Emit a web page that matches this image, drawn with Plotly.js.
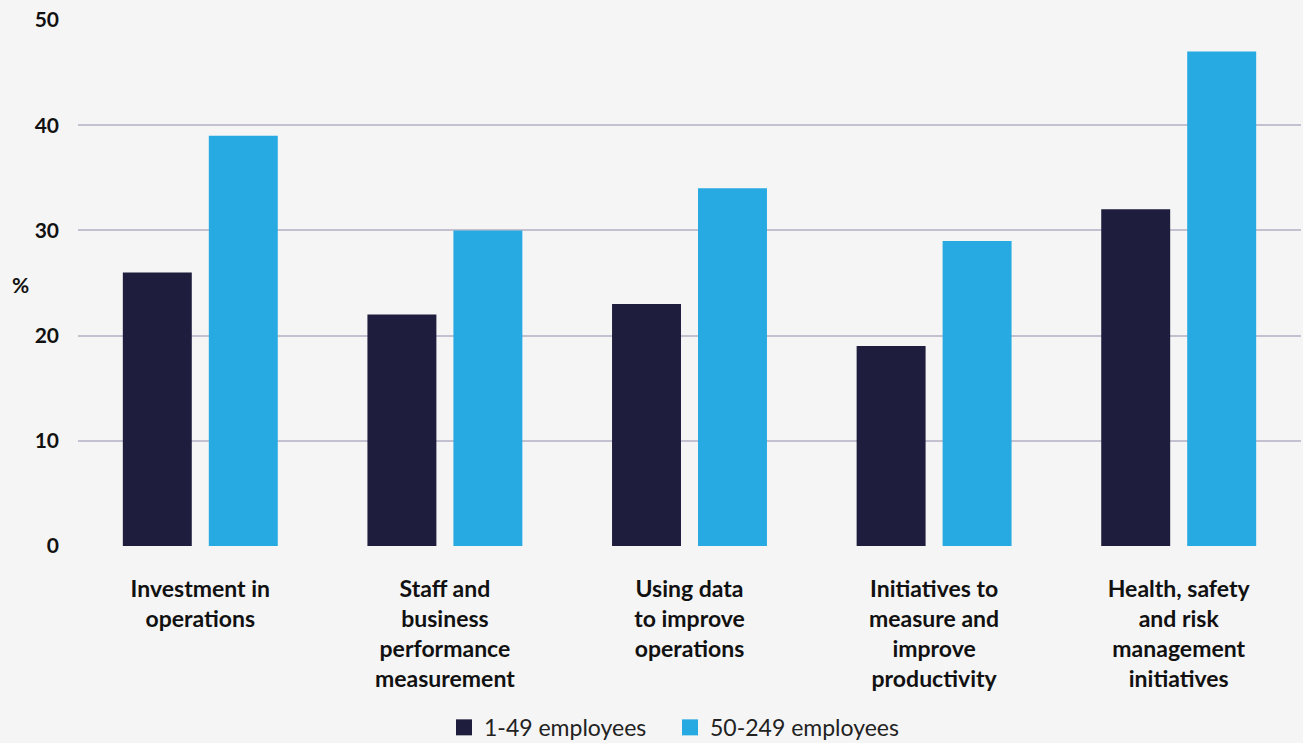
<!DOCTYPE html>
<html>
<head>
<meta charset="utf-8">
<script src="https://cdn.plot.ly/plotly-3.0.1.min.js"></script>
<style>html,body{margin:0;padding:0;background:#f5f5f5;}#chart{width:1303px;height:743px;}</style>
</head>
<body>
<div id="chart"></div>
<script>
const categories = ["Investment in operations", "Staff and business performance measurement", "Using data to improve operations", "Initiatives to measure and improve productivity", "Health, safety and risk management initiatives"];
const tickLabels = ["Investment in<br>operations", "Staff and<br>business<br>performance<br>measurement", "Using data<br>to improve<br>operations", "Initiatives to<br>measure and<br>improve<br>productivity", "Health, safety<br>and risk<br>management<br>initiatives"];
const seriesNames = ["1-49 employees", "50-249 employees"];
const small = [26, 22, 23, 19, 32];
const medium = [39, 30, 34, 29, 47];
const yTicks = [0, 10, 20, 30, 40, 50];
const colors = ["#1f1d3d", "#27aae1"];

const font = "Lato, 'Open Sans', sans-serif";
const traces = [
  {type: "bar", name: seriesNames[0], x: categories, y: small, marker: {color: colors[0]}, hoverinfo: "none", showlegend: false},
  {type: "bar", name: seriesNames[1], x: categories, y: medium, marker: {color: colors[1]}, hoverinfo: "none", showlegend: false},
  {type: "scatter", mode: "markers", name: seriesNames[0], x: [null], y: [null], marker: {symbol: "square", size: 17, color: colors[0]}, hoverinfo: "none", legend: "legend"},
  {type: "scatter", mode: "markers", name: seriesNames[1], x: [null], y: [null], marker: {symbol: "square", size: 17, color: colors[1]}, hoverinfo: "none", legend: "legend2"}
];
const legendBase = {
  orientation: "h", xanchor: "left", xref: "container",
  y: 0.021, yanchor: "middle", yref: "container",
  font: {family: font, size: 23, color: "#222222"}, bgcolor: "rgba(0,0,0,0)",
  itemclick: false, itemdoubleclick: false
};
const layout = {
  width: 1303, height: 743,
  paper_bgcolor: "#f5f5f5", plot_bgcolor: "#f5f5f5",
  margin: {l: 78, r: 2, t: 20, b: 197},
  barmode: "group", bargap: 0.297, bargroupgap: 0.198,
  font: {family: font, color: "#111111"},
  xaxis: {
    type: "category",
    tickmode: "array", tickvals: categories, ticktext: tickLabels,
    tickfont: {family: font, size: 23, color: "#111111", weight: "bold"},
    ticks: "", showgrid: false, zeroline: false, showline: false,
    ticklabelstandoff: 27, automargin: false
  },
  yaxis: {
    range: [0, 50], tickmode: "array", tickvals: yTicks,
    tickfont: {family: font, size: 21, color: "#111111", weight: "bold"},
    showgrid: true, gridcolor: "#c4c0d0", gridwidth: 2,
    zeroline: false, showline: false, ticks: "", ticklabelstandoff: 18, automargin: false
  },
  annotations: [{
    text: "%", xref: "paper", yref: "paper", x: -0.047, y: 0.498,
    xanchor: "center", yanchor: "middle", showarrow: false,
    font: {family: font, size: 21, color: "#111111", weight: "bold"}
  }],
  legend: Object.assign({}, legendBase, {x: 444 / 1303}),
  legend2: Object.assign({}, legendBase, {x: 670 / 1303}),
  showlegend: true
};
Plotly.newPlot("chart", traces, layout, {displayModeBar: false, staticPlot: true});
</script>
</body>
</html>
